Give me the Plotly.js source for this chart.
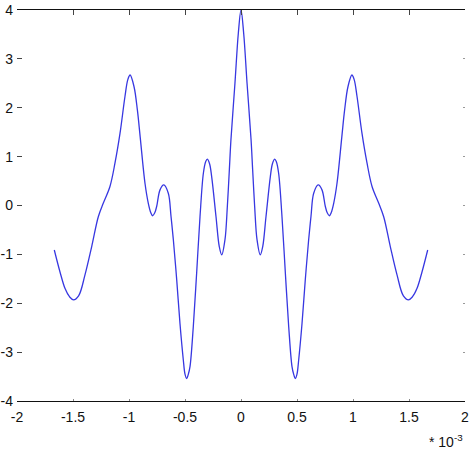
<!DOCTYPE html>
<html>
<head>
<meta charset="utf-8">
<script src="https://cdn.plot.ly/plotly-3.0.1.min.js"></script>
<style>html,body{margin:0;padding:0;background:#fff;}#chart{width:474px;height:454px;}</style>
</head>
<body>
<div id="chart"></div>
<script>
// x values in units of 1e-3 (axis shows "* 10^-3")
const xValues = [
  -1.667,-1.616,-1.571,-1.53,-1.495,-1.45,-1.393,-1.333,-1.274,-1.229,-1.17,-1.125,-1.08,-1.036,-1.01,-0.99,
  -0.955,-0.925,-0.90,-0.857,-0.828,-0.805,-0.789,-0.77,-0.753,-0.723,-0.69,-0.649,-0.625,-0.604,-0.574,-0.545,
  -0.515,-0.50,-0.485,-0.47,-0.455,-0.426,-0.396,-0.366,-0.336,-0.315,-0.30,-0.28,-0.262,-0.223,-0.194,-0.172,
  -0.143,-0.122,-0.104,-0.09,-0.054,-0.024,0,
  0.024,0.054,0.09,0.104,0.122,0.143,0.172,0.194,0.223,0.262,0.28,0.30,0.315,0.336,0.366,0.396,0.426,0.455,
  0.47,0.485,0.50,0.515,0.545,0.574,0.604,0.625,0.649,0.69,0.723,0.753,0.77,0.789,0.805,0.828,0.857,0.90,
  0.925,0.955,0.99,1.01,1.036,1.08,1.125,1.17,1.229,1.274,1.333,1.393,1.45,1.495,1.53,1.571,1.616,1.667
];
const yValues = [
  -0.91,-1.36,-1.70,-1.87,-1.93,-1.85,-1.42,-0.84,-0.23,0.05,0.39,0.87,1.48,2.23,2.58,2.67,
  2.43,1.95,1.40,0.45,0.05,-0.15,-0.21,-0.15,-0.02,0.32,0.42,0.25,-0.22,-0.70,-1.52,-2.41,
  -3.16,-3.45,-3.54,-3.45,-3.29,-2.48,-1.38,-0.23,0.66,0.90,0.95,0.85,0.59,-0.23,-0.84,-1.01,
  -0.70,-0.02,0.73,1.34,2.50,3.52,4.0,
  3.52,2.50,1.34,0.73,-0.02,-0.70,-1.01,-0.84,-0.23,0.59,0.85,0.95,0.90,0.66,-0.23,-1.38,-2.48,-3.29,
  -3.45,-3.54,-3.45,-3.16,-2.41,-1.52,-0.70,-0.22,0.25,0.42,0.32,-0.02,-0.15,-0.21,-0.15,0.05,0.45,1.40,
  1.95,2.43,2.67,2.58,2.23,1.48,0.87,0.39,0.05,-0.23,-0.84,-1.42,-1.85,-1.93,-1.87,-1.70,-1.36,-0.91
];
const xTicks = [-2,-1.5,-1,-0.5,0,0.5,1,1.5,2];
const xTickLabels = ['-2','-1.5','-1','-0.5','0','0.5','1','1.5','2'];
const yTicks = [-4,-3,-2,-1,0,1,2,3,4];
const yTickLabels = ['-4','-3','-2','-1','0','1','2','3','4'];

const font = {family: 'Liberation Sans, Arial, sans-serif', size: 14, color: '#111'};

const traces = [{
  x: xValues, y: yValues, type: 'scatter', mode: 'lines',
  line: {color: 'rgb(55,55,225)', width: 1.3, shape: 'spline', smoothing: 1},
  hoverinfo: 'skip'
}];

const layout = {
  width: 474, height: 454,
  margin: {l: 17, r: 9, t: 10, b: 53},
  paper_bgcolor: '#fff', plot_bgcolor: '#fff',
  showlegend: false,
  font: font,
  xaxis: {
    range: [-2, 2], tickvals: xTicks, ticktext: xTickLabels,
    showgrid: false, zeroline: false,
    showline: true, linecolor: '#111', linewidth: 1.2,
    ticks: 'inside', ticklen: 2, tickcolor: '#888', tickwidth: 1,
    ticklabelstandoff: 3,
    tickfont: font, fixedrange: true
  },
  xaxis2: {
    range: [-2, 2], tickvals: xTicks, overlaying: 'x', side: 'top',
    showgrid: false, zeroline: false,
    showline: true, linecolor: '#111', linewidth: 1.2,
    ticks: 'inside', ticklen: 5, tickcolor: '#444', tickwidth: 1,
    showticklabels: false, fixedrange: true
  },
  yaxis: {
    range: [-4, 4], tickvals: yTicks, ticktext: yTickLabels,
    showgrid: false, zeroline: false, showline: false,
    ticks: 'inside', ticklen: 5, tickcolor: '#444', tickwidth: 1,
    ticklabelstandoff: 3,
    tickfont: font, fixedrange: true
  },
  yaxis2: {
    range: [-4, 4], tickvals: yTicks, overlaying: 'y', side: 'right',
    showgrid: false, zeroline: false, showline: false,
    ticks: 'inside', ticklen: 2, tickcolor: '#999', tickwidth: 1,
    showticklabels: false, fixedrange: true
  },
  annotations: [{
    xref: 'paper', yref: 'paper', x: 1.0, y: -0.075,
    xanchor: 'right', yanchor: 'top', showarrow: false,
    text: '* 10<sup>-3</sup>', font: font
  }]
};

// invisible trace to activate the mirror axes
traces.push({x: [0], y: [0], xaxis: 'x2', yaxis: 'y2', type: 'scatter', mode: 'markers',
  marker: {opacity: 0}, hoverinfo: 'skip'});

Plotly.newPlot('chart', traces, layout, {displayModeBar: false, staticPlot: true});
</script>
</body>
</html>
